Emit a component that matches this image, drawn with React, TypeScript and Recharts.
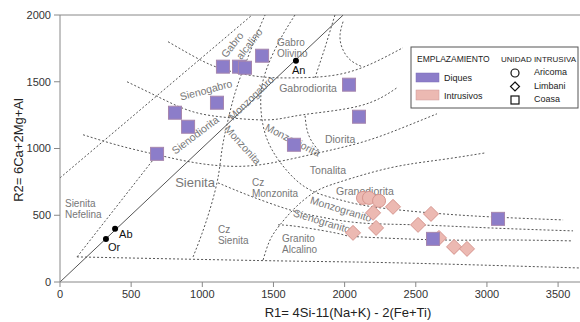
import React from 'react';
import { ComposedChart, Line, Scatter, XAxis, YAxis, ReferenceLine } from 'recharts';

const FONT = '"Liberation Sans", Arial, sans-serif';

const X_TICKS = [0, 500, 1000, 1500, 2000, 2500, 3000, 3500];
const Y_TICKS = [0, 500, 1000, 1500, 2000];

// Diques (unidad Coasa)
const DIQUES = [
  { x: 1420, y: 1695 }, { x: 1145, y: 1613 }, { x: 1258, y: 1613 }, { x: 1300, y: 1605 },
  { x: 1103, y: 1343 }, { x: 808, y: 1268 }, { x: 900, y: 1163 }, { x: 682, y: 960 },
  { x: 1644, y: 1028 }, { x: 2031, y: 1478 }, { x: 2101, y: 1238 }, { x: 3078, y: 473 },
  { x: 2621, y: 323 },
];

// Intrusivos
const ARICOMA = [{ x: 2129, y: 630 }, { x: 2171, y: 630 }, { x: 2242, y: 608 }];
const LIMBANI = [
  { x: 2340, y: 563 }, { x: 2200, y: 518 }, { x: 2607, y: 510 }, { x: 2059, y: 368 },
  { x: 2221, y: 405 }, { x: 2516, y: 428 }, { x: 2663, y: 330 }, { x: 2769, y: 263 },
  { x: 2860, y: 248 },
];

const MINERALS = [
  { x: 323, y: 323, name: 'Or' },
  { x: 387, y: 398, name: 'Ab' },
  { x: 1658, y: 1658, name: 'An' },
];

// field boundaries
const DIAGONAL = [{ x: 0, y: 0 }, { x: 1990, y: 2000 }];
const LINE_A = [{ x: 0, y: 780 }, { x: 1350, y: 2000 }];
const LINE_NEF = [{ x: 120, y: 188 }, { x: 682, y: 953 }];
const LINE_OLIV = [{ x: 1932, y: 2000 }, { x: 1862, y: 1755 }, { x: 1792, y: 1530 }];
const CURVE_GABRO = [
  { x: 759, y: 1800 }, { x: 984, y: 1665 }, { x: 1159, y: 1590 }, { x: 1405, y: 1538 },
  { x: 1686, y: 1530 }, { x: 2038, y: 1575 }, { x: 2410, y: 1755 },
];
const CURVE_NORITA = [
  { x: 1989, y: 1950 }, { x: 1968, y: 1853 }, { x: 1982, y: 1755 }, { x: 2038, y: 1665 },
  { x: 2122, y: 1613 },
];
const CURVE_GABRODIORITA = [
  { x: 471, y: 1500 }, { x: 703, y: 1380 }, { x: 935, y: 1275 }, { x: 1195, y: 1230 },
  { x: 1476, y: 1215 }, { x: 1708, y: 1253 }, { x: 2108, y: 1320 }, { x: 2368, y: 1455 },
];
const CURVE_DIORITA = [
  { x: 162, y: 1103 }, { x: 422, y: 1020 }, { x: 682, y: 953 }, { x: 914, y: 900 },
  { x: 1138, y: 870 }, { x: 1405, y: 878 }, { x: 1757, y: 953 }, { x: 2108, y: 1043 },
  { x: 2389, y: 1148 }, { x: 2649, y: 1260 },
];
const CURVE_MONZODIORITA = [
  { x: 1722, y: 1245 }, { x: 1736, y: 1140 }, { x: 1771, y: 1050 }, { x: 1827, y: 975 },
];
const LINE_SIENITA = [
  { x: 935, y: 188 }, { x: 1019, y: 428 }, { x: 1103, y: 743 }, { x: 1138, y: 990 },
  { x: 1181, y: 1215 }, { x: 1237, y: 1440 }, { x: 1314, y: 1665 }, { x: 1391, y: 1875 },
  { x: 1441, y: 2000 },
];
const CURVE_MONZONITA = [
  { x: 1651, y: 2000 }, { x: 1546, y: 1815 }, { x: 1455, y: 1605 }, { x: 1412, y: 1403 },
  { x: 1426, y: 1178 }, { x: 1490, y: 990 }, { x: 1602, y: 825 }, { x: 1757, y: 690 },
  { x: 1968, y: 615 }, { x: 2199, y: 563 }, { x: 2600, y: 518 }, { x: 3022, y: 488 },
  { x: 3535, y: 465 },
];
const LINE_TONALITA = [
  { x: 1427, y: 165 }, { x: 1476, y: 315 }, { x: 1546, y: 428 }, { x: 1651, y: 555 },
  { x: 1792, y: 675 }, { x: 1968, y: 750 }, { x: 2319, y: 855 }, { x: 2670, y: 915 },
  { x: 2993, y: 968 },
];
const CURVE_MONZOGRANITO = [
  { x: 1110, y: 743 }, { x: 1335, y: 645 }, { x: 1616, y: 540 }, { x: 1827, y: 488 },
  { x: 2108, y: 443 }, { x: 2509, y: 428 }, { x: 3022, y: 405 }, { x: 3605, y: 383 },
];
const CURVE_SIENOGRANITO = [
  { x: 1532, y: 428 }, { x: 1686, y: 413 }, { x: 1968, y: 360 }, { x: 2108, y: 338 },
  { x: 2670, y: 315 }, { x: 3092, y: 315 }, { x: 3598, y: 308 },
];
const LINE_BASE = [
  { x: 119, y: 188 }, { x: 1546, y: 158 }, { x: 2389, y: 143 }, { x: 3654, y: 105 },
];

const STRAIGHT = [LINE_A, LINE_NEF, LINE_OLIV];
const CURVED = [
  CURVE_GABRO, CURVE_NORITA, CURVE_GABRODIORITA, CURVE_DIORITA, CURVE_MONZODIORITA,
  LINE_SIENITA, CURVE_MONZONITA, LINE_TONALITA, CURVE_MONZOGRANITO, CURVE_SIENOGRANITO, LINE_BASE,
];

// field names: position in R1/R2 (first line), rotation, anchor
const FIELD_LABELS = [
  { x: 1209, y: 1778, text: 'Gabro', rot: -52, anchor: 'middle' },
  { x: 1328, y: 1785, text: 'alcalino', rot: -52, anchor: 'middle' },
  { x: 1525, y: 1800, text: 'Gabro\nOlivino', rot: 0, anchor: 'start' },
  { x: 1026, y: 1440, text: 'Sienogabro', rot: -15, anchor: 'middle' },
  { x: 1743, y: 1455, text: 'Gabrodiorita', rot: 0, anchor: 'middle' },
  { x: 1342, y: 1380, text: 'Monzogabro', rot: -44, anchor: 'middle' },
  { x: 949, y: 1103, text: 'Sienodiorita', rot: -37, anchor: 'middle' },
  { x: 1286, y: 1028, text: 'Monzonita', rot: 48, anchor: 'middle' },
  { x: 1637, y: 1065, text: 'Monzodiorita', rot: 27, anchor: 'middle' },
  { x: 1968, y: 1073, text: 'Diorita', rot: 0, anchor: 'middle' },
  { x: 1883, y: 840, text: 'Tonalita', rot: 0, anchor: 'middle' },
  { x: 1349, y: 750, text: 'Cz\nMonzonita', rot: 0, anchor: 'start' },
  { x: 35, y: 592, text: 'Sienita\nNefelina', rot: 0, anchor: 'start' },
  { x: 1110, y: 397, text: 'Cz\nSienita', rot: 0, anchor: 'start' },
  { x: 1560, y: 330, text: 'Granito\nAlcalino', rot: 0, anchor: 'start' },
  { x: 2143, y: 683, text: 'Granodiorita', rot: 0, anchor: 'middle' },
  { x: 1975, y: 548, text: 'Monzogranito', rot: 17, anchor: 'middle' },
  { x: 1841, y: 458, text: 'Sienogranito', rot: 17, anchor: 'middle' },
];
const BIG_LABELS = [{ x: 949, y: 743, text: 'Sienita' }];
const MINERAL_LABELS = [
  { x: 337, y: 263, text: 'Or' },
  { x: 415, y: 360, text: 'Ab' },
  { x: 1630, y: 1590, text: 'An' },
];

const PURPLE = '#8c7dc9';
const PURPLE_EDGE = '#a686ae';
const PINK = '#ecb9b2';
const PINK_EDGE = '#d6958e';

const SquareShape = (p: any) => (
  <rect x={p.cx - 6.5} y={p.cy - 6.5} width={13} height={13} fill={PURPLE} stroke={PURPLE_EDGE} strokeWidth={1} />
);
const CircleShape = (p: any) => (
  <circle cx={p.cx} cy={p.cy} r={6.5} fill={PINK} stroke={PINK_EDGE} strokeWidth={1} />
);
const DiamondShape = (p: any) => (
  <polygon
    points={`${p.cx},${p.cy - 7.5} ${p.cx + 7.5},${p.cy} ${p.cx},${p.cy + 7.5} ${p.cx - 7.5},${p.cy}`}
    fill={PINK}
    stroke={PINK_EDGE}
    strokeWidth={1}
  />
);
const DotShape = (p: any) => <circle cx={p.cx} cy={p.cy} r={3} fill="#000" />;

const FieldText = (p: any) => {
  const lines = String(p.payload.text).split('\n');
  return (
    <text
      x={p.cx}
      y={p.cy}
      textAnchor={p.payload.anchor}
      dominantBaseline="central"
      transform={p.payload.rot ? `rotate(${p.payload.rot} ${p.cx} ${p.cy})` : undefined}
      fill="#777"
      fontSize={lines.length > 1 ? 10 : 10.5}
      fontFamily={FONT}
    >
      {lines.map((t, i) => (
        <tspan key={i} x={p.cx} dy={i === 0 ? 0 : 11.4}>{t}</tspan>
      ))}
    </text>
  );
};
const BigText = (p: any) => (
  <text x={p.cx} y={p.cy} textAnchor="middle" dominantBaseline="central" fill="#777" fontSize={13} fontFamily={FONT}>
    {p.payload.text}
  </text>
);
const MineralText = (p: any) => (
  <text x={p.cx} y={p.cy} textAnchor="start" dominantBaseline="central" fill="#111" fontSize={11} fontFamily={FONT}>
    {p.payload.text}
  </text>
);

const Legend = () => (
  <svg
    width={170}
    height={64}
    style={{ position: 'absolute', left: 410, top: 46 }}
    fontFamily={FONT}
  >
    <rect x={1} y={1} width={167} height={61} fill="#fff" stroke="#555" strokeWidth={1} />
    <text x={7} y={13} fontSize={8.5} fill="#222" dominantBaseline="central">EMPLAZAMIENTO</text>
    <text x={91} y={13} fontSize={8} fill="#222" dominantBaseline="central">UNIDAD INTRUSIVA</text>
    <rect x={6} y={27} width={23} height={9} fill={PURPLE} stroke="#7d6fb8" strokeWidth={0.5} />
    <text x={34} y={32} fontSize={9} fill="#222" dominantBaseline="central">Diques</text>
    <rect x={6} y={44} width={23} height={10} fill={PINK} stroke="#c99" strokeWidth={0.5} />
    <text x={34} y={50} fontSize={9} fill="#222" dominantBaseline="central">Intrusivos</text>
    <circle cx={105} cy={27} r={4} fill="none" stroke="#111" strokeWidth={1.2} />
    <polygon points="105,36 109.5,40.5 105,45 100.5,40.5" fill="none" stroke="#111" strokeWidth={1.2} />
    <rect x={101} y={50} width={8} height={8} fill="none" stroke="#111" strokeWidth={1.2} />
    <text x={124} y={26} fontSize={9} fill="#222" dominantBaseline="central">Aricoma</text>
    <text x={124} y={40} fontSize={9} fill="#222" dominantBaseline="central">Limbani</text>
    <text x={124} y={53} fontSize={9} fill="#222" dominantBaseline="central">Coasa</text>
  </svg>
);

export default function App() {
  const tickStyle = { fontSize: 11, fill: '#333', fontFamily: FONT };
  return (
    <div style={{ position: 'absolute', left: 0, top: 0, width: 580, height: 322, background: '#fff' }}>
      <ComposedChart width={580} height={322} margin={{ top: 15, right: 0, bottom: 0, left: 0 }}>
        <XAxis
          type="number"
          dataKey="x"
          domain={[0, 3654]}
          ticks={X_TICKS}
          allowDataOverflow
          height={40}
          stroke="#888"
          tickSize={5}
          tickMargin={3}
          tick={tickStyle}
        />
        <YAxis
          type="number"
          dataKey="y"
          domain={[0, 2000]}
          ticks={Y_TICKS}
          allowDataOverflow
          width={60}
          stroke="#888"
          tickSize={6}
          tickMargin={3}
          tick={tickStyle}
        />
        <ReferenceLine y={2000} stroke="#888" strokeWidth={1} />
        {STRAIGHT.map((d, i) => (
          <Line key={`s${i}`} data={d} dataKey="y" type="linear" stroke="#555" strokeWidth={1}
            strokeDasharray="2 2" dot={false} activeDot={false} isAnimationActive={false} legendType="none" />
        ))}
        {CURVED.map((d, i) => (
          <Line key={`c${i}`} data={d} dataKey="y" type="natural" stroke="#555" strokeWidth={1}
            strokeDasharray="2 2" dot={false} activeDot={false} isAnimationActive={false} legendType="none" />
        ))}
        <Line data={DIAGONAL} dataKey="y" type="linear" stroke="#555" strokeWidth={1}
          dot={false} activeDot={false} isAnimationActive={false} legendType="none" />
        <Scatter data={FIELD_LABELS} shape={FieldText} isAnimationActive={false} legendType="none" />
        <Scatter data={BIG_LABELS} shape={BigText} isAnimationActive={false} legendType="none" />
        <Scatter data={MINERAL_LABELS} shape={MineralText} isAnimationActive={false} legendType="none" />
        <Scatter data={MINERALS} shape={DotShape} isAnimationActive={false} legendType="none" />
        <Scatter data={LIMBANI} shape={DiamondShape} isAnimationActive={false} legendType="none" />
        <Scatter data={ARICOMA} shape={CircleShape} isAnimationActive={false} legendType="none" />
        <Scatter data={DIQUES} shape={SquareShape} isAnimationActive={false} legendType="none" />
      </ComposedChart>
      <div
        style={{
          position: 'absolute', left: 18, top: 150, transform: 'translate(-50%, -50%) rotate(-90deg)',
          whiteSpace: 'nowrap', fontFamily: FONT, fontSize: 13, color: '#222',
        }}
      >
        R2= 6Ca+2Mg+Al
      </div>
      <div
        style={{
          position: 'absolute', left: 348, top: 312, transform: 'translate(-50%, -50%)',
          whiteSpace: 'nowrap', fontFamily: FONT, fontSize: 13, color: '#222',
        }}
      >
        R1= 4Si-11(Na+K) - 2(Fe+Ti)
      </div>
      <Legend />
    </div>
  );
}
